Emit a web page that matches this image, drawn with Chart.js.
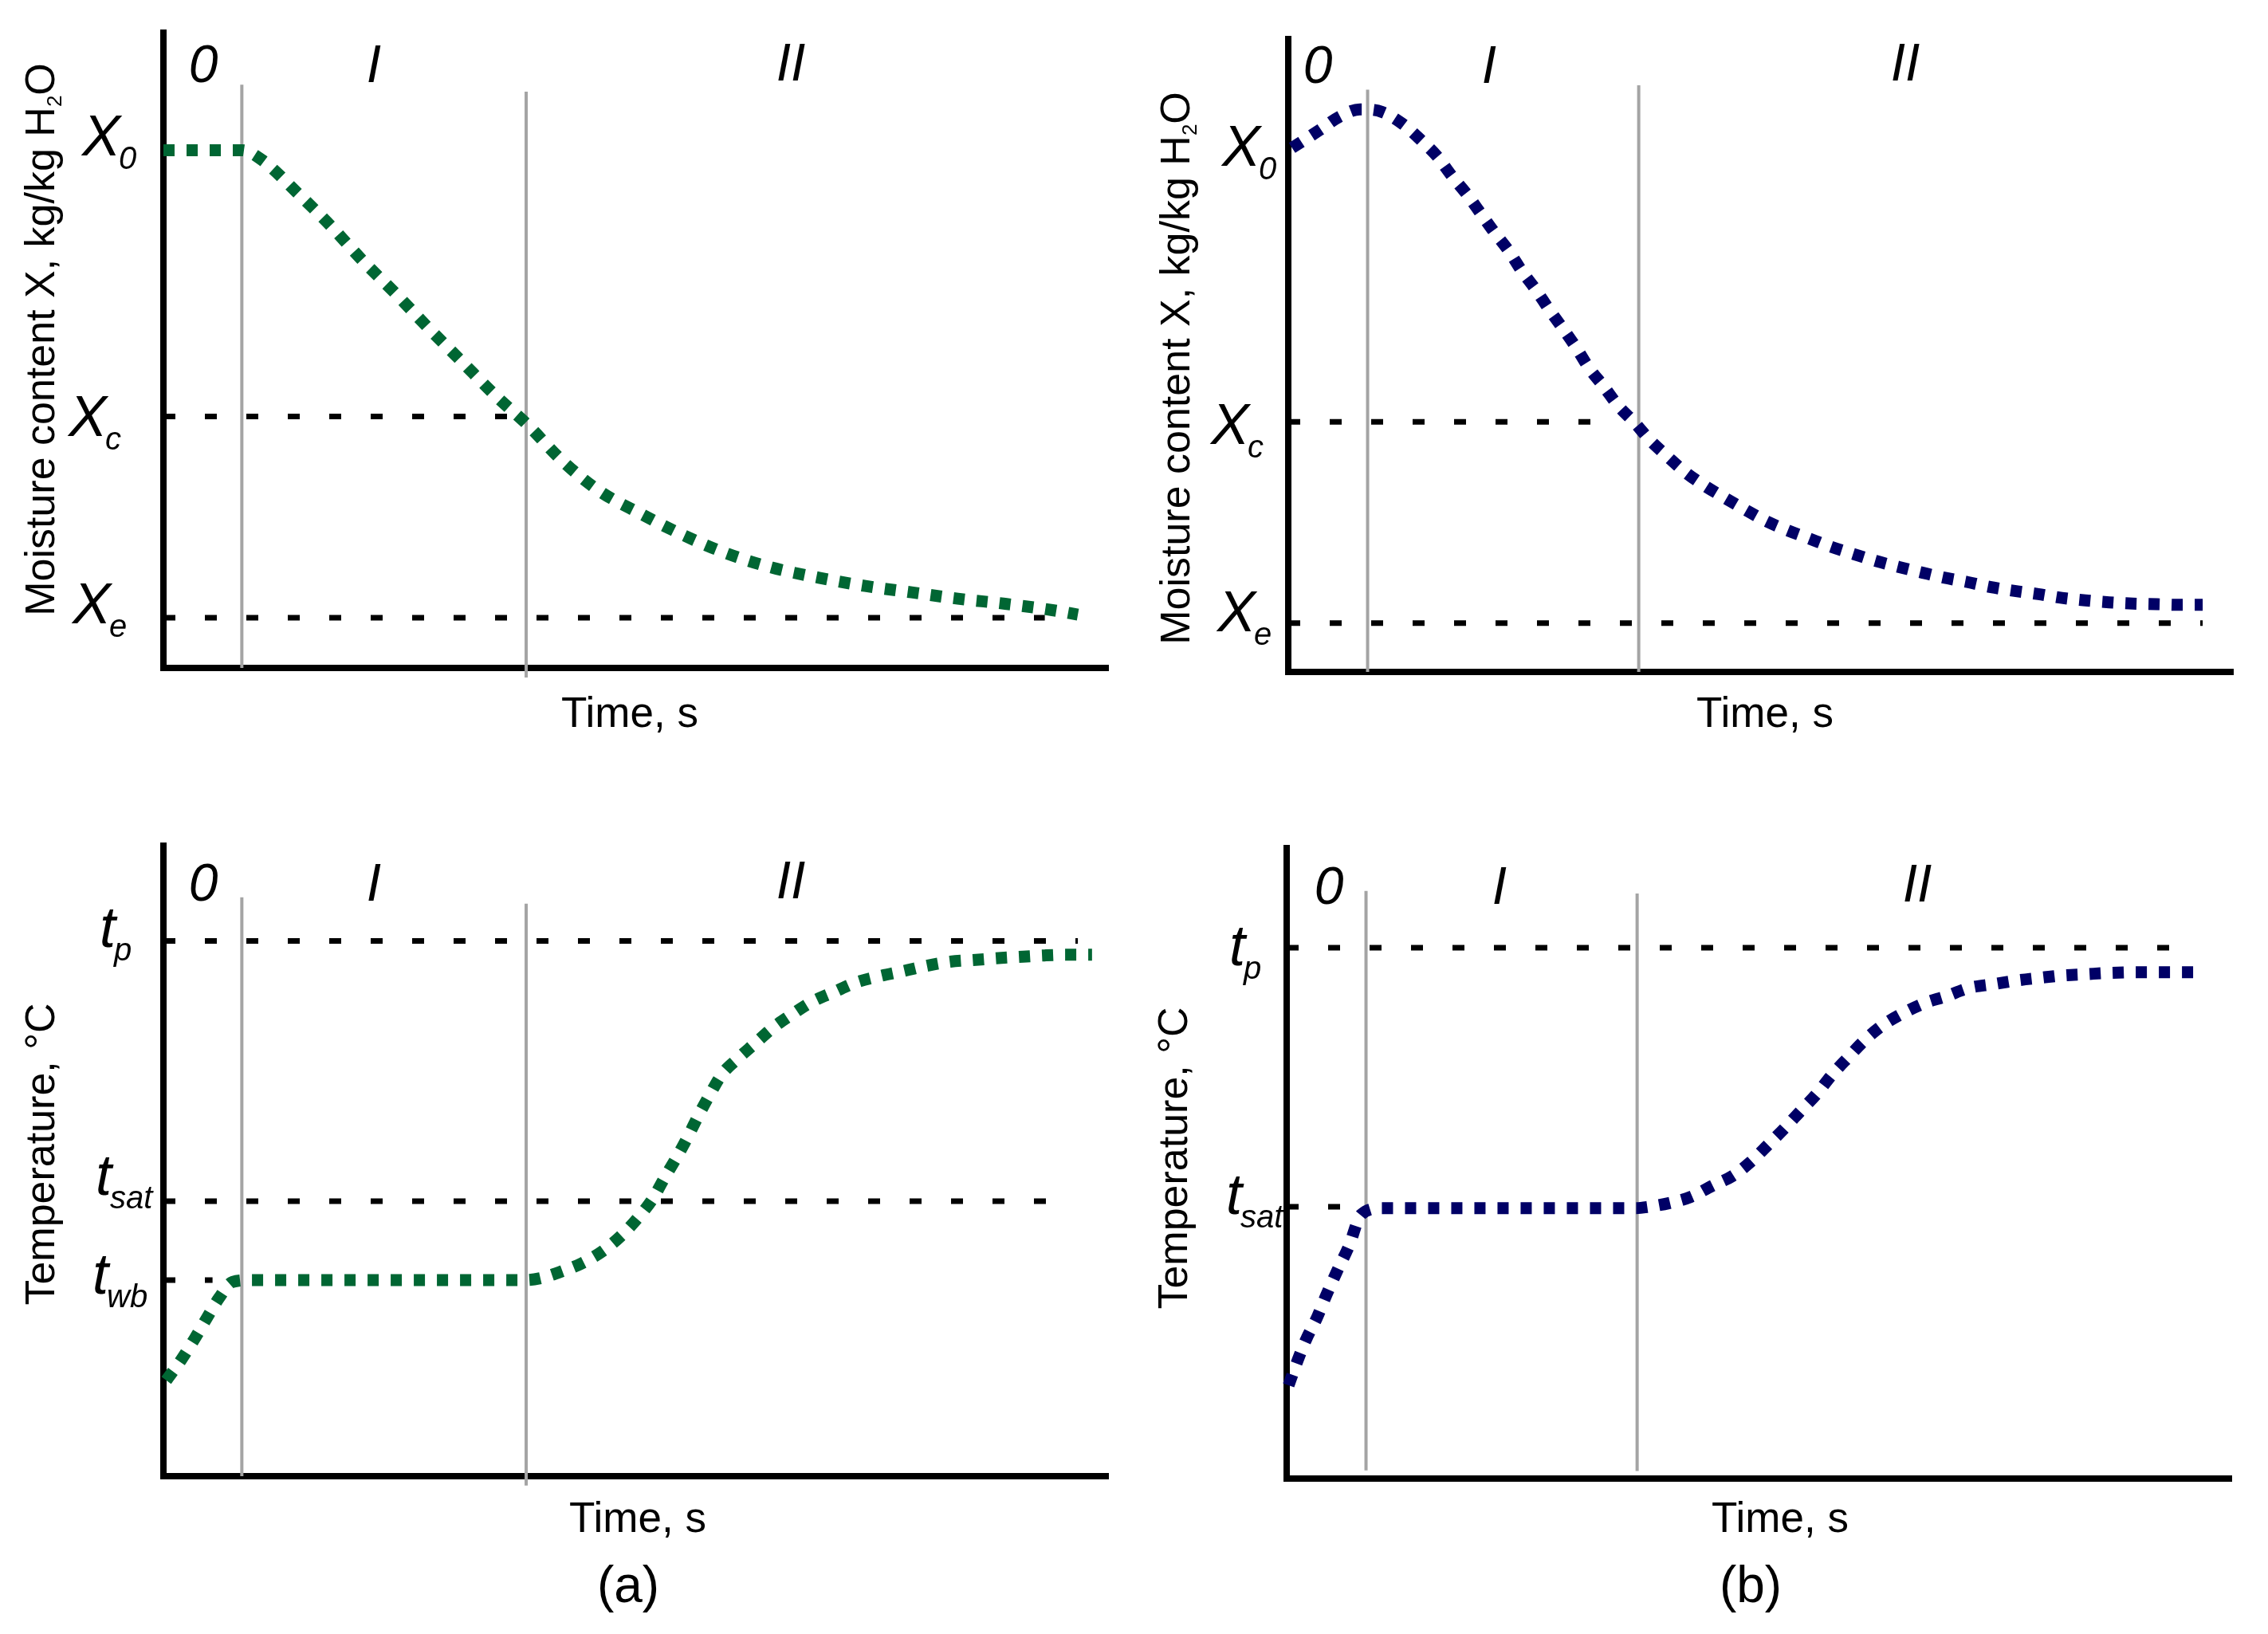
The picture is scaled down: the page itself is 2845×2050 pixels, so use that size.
<!DOCTYPE html>
<html><head><meta charset="utf-8">
<script src="https://cdn.jsdelivr.net/npm/chart.js@4.4.1/dist/chart.umd.min.js"></script>
<style>
html,body{margin:0;padding:0;background:#fff;width:2845px;height:2050px;overflow:hidden}
canvas{position:absolute}
</style></head><body>
<canvas id="tl" style="left:0px;top:0px" width="1420" height="1030"></canvas>
<canvas id="bl" style="left:0px;top:1030px" width="1420" height="1020"></canvas>
<canvas id="tr" style="left:1420px;top:0px" width="1425" height="1030"></canvas>
<canvas id="br" style="left:1420px;top:1030px" width="1425" height="1020"></canvas>
<script>
// ---------- DATA (time and values in relative units, 0..100) ----------
const phaseLabels = ['0', 'I', 'II'];
const phaseBoundsA = [8.3, 38.4];
const phaseBoundsB = [8.4, 37.1];

const moistLevelSubs = ['0', 'c', 'e'];
const tempLevelSubsA = ['p', 'sat', 'wb'];
const tempLevelSubsB = ['p', 'sat'];

// (a) moisture content
const moistA_time = [0, 8.3, 10.4, 14.1, 17.7, 21.1, 24.6, 28.0, 31.6, 35.2, 38.6, 42.3, 46.2, 50.5, 54.9, 59.5, 64.4, 69.4, 74.3, 79.2, 84.1, 89.1, 94.1, 96.8];
const moistA_X    = [81.5, 81.5, 80.0, 74.9, 69.6, 64.1, 58.9, 53.6, 48.2, 42.8, 38.2, 32.5, 27.8, 24.3, 21.0, 18.1, 15.8, 14.2, 12.9, 11.9, 10.9, 10.1, 9.1, 8.4];
const moistLevelsA = [81.5, 39.6, 7.9];   // X0, Xc, Xe

// (a) temperature
const tempA_time = [0.3, 1.9, 3.3, 4.6, 5.9, 7.3, 9.2, 38.4, 39.9, 42.2, 44.2, 46.5, 48.5, 50.3, 51.8, 53.0, 54.3, 55.5, 56.6, 57.8, 59.1, 60.7, 62.6, 64.5, 66.4, 68.6, 71.0, 73.3, 75.8, 78.3, 80.6, 83.3, 86.0, 88.7, 91.0, 93.3, 95.6, 98.3];
const tempA_T    = [15.2, 18.5, 21.8, 25.1, 28.3, 30.8, 31.1, 31.1, 31.4, 32.5, 33.7, 35.7, 38.2, 41.1, 44.0, 47.2, 50.5, 53.8, 57.1, 60.4, 63.7, 66.1, 68.6, 71.1, 73.1, 75.2, 76.8, 78.3, 79.3, 80.1, 80.9, 81.6, 81.9, 82.2, 82.4, 82.6, 82.7, 82.7];
const tempLevelsA = [84.9, 43.6, 31.1];   // tp, tsat, twb

// (b) moisture content
const moistB_time = [0.4, 3.3, 5.4, 7.6, 9.9, 12.1, 14.0, 15.8, 17.3, 18.9, 20.4, 21.8, 23.4, 24.7, 26.2, 27.6, 29.1, 30.5, 31.8, 33.4, 34.9, 36.6, 38.3, 40.1, 42.0, 44.0, 46.1, 48.3, 50.5, 52.8, 55.1, 57.4, 59.9, 62.3, 64.6, 67.1, 69.4, 71.9, 74.4, 76.9, 79.4, 81.9, 84.4, 86.9, 89.4, 92.0, 94.4, 96.8];
const moistB_X    = [82.8, 85.6, 87.7, 88.9, 88.5, 86.6, 84.1, 81.4, 78.4, 75.5, 72.4, 69.5, 66.4, 63.4, 60.4, 57.3, 54.2, 51.2, 48.1, 45.1, 42.1, 39.5, 36.6, 34.1, 31.6, 29.5, 27.6, 25.7, 23.9, 22.4, 21.1, 19.8, 18.6, 17.5, 16.6, 15.7, 14.9, 14.2, 13.4, 12.8, 12.3, 11.7, 11.3, 11.0, 10.8, 10.7, 10.6, 10.6];
const moistLevelsB = [82.8, 39.5, 7.7];   // X0, Xc, Xe

// (b) temperature
const tempB_time = [0.2, 1.2, 2.1, 3.2, 4.2, 5.3, 6.6, 7.9, 10.2, 37.0, 38.3, 40.5, 42.8, 45.0, 47.2, 49.1, 51.0, 52.8, 54.4, 56.1, 57.7, 59.5, 61.1, 63.0, 65.1, 67.5, 69.8, 72.2, 74.7, 77.3, 79.6, 82.1, 84.6, 87.0, 89.6, 92.1, 94.6, 96.9];
const tempB_T    = [14.8, 18.9, 22.2, 25.5, 29.1, 32.8, 36.9, 41.9, 42.9, 42.9, 43.1, 43.7, 44.7, 46.4, 48.0, 50.2, 53.0, 55.7, 58.3, 61.0, 64.0, 66.9, 69.4, 71.8, 73.7, 75.4, 76.5, 77.8, 78.4, 79.0, 79.4, 79.8, 80.0, 80.2, 80.3, 80.3, 80.3, 80.3];
const tempLevelsB = [84.2, 43.1];         // tp, tsat

// ---------- STYLE / LAYOUT ----------
const GREEN = '#006633';
const NAVY = '#000066';
const GREY = '#a4a4a4';
const FONT = '"Liberation Sans", Arial, sans-serif';

const panels = [
  { id: 'tl', ox: 0, oy: 0, pad: {left: 205, top: 41, right: 30, bottom: 192},
    color: GREEN, time: moistA_time, vals: moistA_X, bounds: phaseBoundsA,
    boundTop: [91.8, 90.7], boundBottom: [0, -1.5],
    levels: moistLevelsA, levelEnd: [0, 36.9, 93.3], main: 'X', subs: moistLevelSubs,
    lab: [{x: 103, dy: 7}, {x: 86, dy: 25}, {x: 91, dy: 7}],
    phase: [[255, 103], [469, 103], [992, 101]],
    yTitle: {parts: [['Moisture content X, kg/kg H', 0], ['2', 1], ['O', 0]], bx: 68, cy: 426},
    xTitle: [790, 912], caption: null },
  { id: 'bl', ox: 0, oy: 1030, pad: {left: 205, top: 31, right: 30, bottom: 198},
    color: GREEN, time: tempA_time, vals: tempA_T, bounds: phaseBoundsA,
    boundTop: [91.8, 90.8], boundBottom: [0, -1.5],
    levels: tempLevelsA, levelEnd: [96.8, 93.7, 5.2], main: 't', subs: tempLevelSubsA,
    lab: [{x: 125, dy: 8}, {x: 120, dy: -8}, {x: 116, dy: 17}],
    phase: [[255, 1130], [469, 1130], [992, 1127]],
    yTitle: {parts: [['Temperature, \u00B0C', 0]], bx: 68, cy: 1448},
    xTitle: [800, 1922], caption: ['(a)', 788, 2010] },
  { id: 'tr', ox: 1420, oy: 0, pad: {left: 196, top: 49, right: 44, bottom: 187},
    color: NAVY, time: moistB_time, vals: moistB_X, bounds: phaseBoundsB,
    boundTop: [92.0, 92.7], boundBottom: [0, 0],
    levels: moistLevelsB, levelEnd: [0, 35.1, 96.8], main: 'X', subs: moistLevelSubs,
    lab: [{x: 1533, dy: 22}, {x: 1519, dy: 28}, {x: 1527, dy: 10}],
    phase: [[1653, 104], [1868, 104], [2390, 101]],
    yTitle: {parts: [['Moisture content X, kg/kg H', 0], ['2', 1], ['O', 0]], bx: 1492, cy: 462},
    xTitle: [2214, 912], caption: null },
  { id: 'br', ox: 1420, oy: 1030, pad: {left: 194, top: 34, right: 46, bottom: 195},
    color: NAVY, time: tempB_time, vals: tempB_T, bounds: phaseBoundsB,
    boundTop: [93.2, 92.8], boundBottom: [1.3, 1.2],
    levels: tempLevelsB, levelEnd: [96.5, 6.7], main: 't', subs: tempLevelSubsB,
    lab: [{x: 1542, dy: 22}, {x: 1538, dy: 9}],
    phase: [[1667, 1134], [1881, 1134], [2405, 1131]],
    yTitle: {parts: [['Temperature, \u00B0C', 0]], bx: 1489, cy: 1453},
    xTitle: [2233, 1922], caption: ['(b)', 2196, 2010] }
];

function textPlugin(p) {
  return {
    id: 'panelText_' + p.id,
    afterDraw(chart) {
      const ctx = chart.ctx;
      const ys = chart.scales.y;
      ctx.save();
      ctx.fillStyle = '#000';
      // phase labels
      ctx.font = 'italic 66px ' + FONT;
      ctx.textAlign = 'center';
      ctx.textBaseline = 'alphabetic';
      phaseLabels.forEach((s, i) => ctx.fillText(s, p.phase[i][0] - p.ox, p.phase[i][1] - p.oy));
      // level labels with subscripts
      ctx.textAlign = 'left';
      p.levels.forEach((v, i) => {
        const yb = ys.getPixelForValue(v) + p.lab[i].dy;
        const x = p.lab[i].x - p.ox;
        ctx.font = 'italic 72px ' + FONT;
        ctx.fillText(p.main, x, yb);
        const w = ctx.measureText(p.main).width;
        ctx.font = 'italic 40px ' + FONT;
        ctx.fillText(p.subs[i], x + w - 2, yb + 17);
      });
      // x-axis title
      ctx.font = '53px ' + FONT;
      ctx.textAlign = 'center';
      ctx.fillText('Time, s', p.xTitle[0] - p.ox, p.xTitle[1] - p.oy);
      if (p.caption) {
        ctx.font = '64px ' + FONT;
        ctx.fillText(p.caption[0], p.caption[1] - p.ox, p.caption[2] - p.oy);
      }
      // rotated y-axis title
      ctx.translate(p.yTitle.bx - p.ox, p.yTitle.cy - p.oy);
      ctx.rotate(-Math.PI / 2);
      ctx.textAlign = 'left';
      const fonts = ['52px ' + FONT, '26px ' + FONT];
      let total = 0;
      const widths = p.yTitle.parts.map(([s, sub]) => { ctx.font = fonts[sub]; const w = ctx.measureText(s).width; total += w; return w; });
      let x = -total / 2;
      p.yTitle.parts.forEach(([s, sub], i) => {
        ctx.font = fonts[sub];
        ctx.fillText(s, x, sub ? 9 : 0);
        x += widths[i];
      });
      ctx.restore();
    }
  };
}

panels.forEach(p => {
  const datasets = [];
  // main dotted curve (drawn on top: first dataset)
  datasets.push({
    data: p.time.map((t, i) => ({x: t, y: p.vals[i]})),
    borderColor: p.color, borderWidth: 15, borderDash: [14, 15], borderCapStyle: 'butt',
    cubicInterpolationMode: 'monotone', pointRadius: 0, clip: false
  });
  // dashed reference levels
  p.levels.forEach((v, i) => {
    if (!p.levelEnd[i]) return;
    datasets.push({
      data: [{x: 0, y: v}, {x: p.levelEnd[i], y: v}],
      borderColor: '#000', borderWidth: 7, borderDash: [15, 37], borderCapStyle: 'butt',
      pointRadius: 0, clip: false
    });
  });
  // phase boundaries
  p.bounds.forEach((b, i) => {
    datasets.push({
      data: [{x: b, y: p.boundBottom[i]}, {x: b, y: p.boundTop[i]}],
      borderColor: GREY, borderWidth: 4, pointRadius: 0, clip: false
    });
  });
  new Chart(document.getElementById(p.id), {
    type: 'line',
    data: {datasets},
    options: {
      responsive: false, animation: false, devicePixelRatio: 1, events: [],
      layout: {padding: p.pad},
      plugins: {legend: {display: false}, tooltip: {enabled: false}},
      scales: {
        x: {type: 'linear', min: 0, max: 100,
            ticks: {display: false}, grid: {display: false, drawTicks: false},
            border: {display: true, color: '#000', width: 8}},
        y: {type: 'linear', min: 0, max: 100,
            ticks: {display: false}, grid: {display: false, drawTicks: false},
            border: {display: true, color: '#000', width: 8}}
      }
    },
    plugins: [textPlugin(p)]
  });
});
</script>
</body></html>
